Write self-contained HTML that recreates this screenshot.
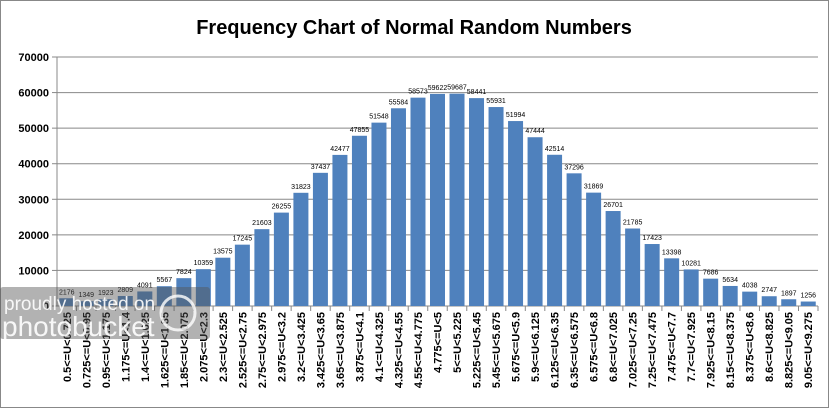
<!DOCTYPE html>
<html><head><style>
body{margin:0;background:#fff}
svg{display:block}
</style></head><body>
<svg id="s" width="829" height="408" xmlns="http://www.w3.org/2000/svg" font-family="Liberation Sans, sans-serif">
<rect x="0.5" y="0.5" width="828" height="407" fill="#fff" stroke="#888"/>
<text x="414" y="34" text-anchor="middle" font-size="20" font-weight="bold" fill="#000">Frequency Chart of Normal Random Numbers</text>
</svg>
<script>
var v=[2176,1349,1923,2809,4091,5567,7824,10359,13575,17245,21603,26255,31823,37437,42477,47855,51548,55584,58573,59622,59687,58441,55931,51994,47444,42514,37296,31869,26701,21785,17423,13398,10281,7686,5634,4038,2747,1897,1256];
var s=document.getElementById('s'),h='';
var x0=57,x1=818,y0=306,y7=57,k=(y0-y7)/70000,w=(x1-x0)/39;
for(var i=0;i<=7;i++){var y=y0-i*10000*k;
h+='<line x1="'+x0+'" x2="'+x1+'" y1="'+y+'" y2="'+y+'" stroke="#888"/>';
h+='<line x1="'+(x0-5)+'" x2="'+x0+'" y1="'+y+'" y2="'+y+'" stroke="#888"/>';
h+='<text x="'+(x0-8)+'" y="'+(y+4)+'" text-anchor="end" font-size="11" font-weight="bold">'+(i*10000)+'</text>';}
h+='<line x1="'+x0+'" x2="'+x0+'" y1="'+y7+'" y2="'+y0+'" stroke="#888"/>';
for(var i=0;i<39;i++){var cx=x0+w*i+w/2,bh=v[i]*k,lo=0.5+0.225*i,hi=lo+0.225;
h+='<rect x="'+(cx-7.5)+'" y="'+(y0-bh)+'" width="15" height="'+bh+'" fill="#4f81bd"/>';
h+='<text x="'+cx+'" y="'+(y0-bh-4)+'" text-anchor="middle" font-size="7">'+v[i]+'</text>';
h+='<line x1="'+(x0+w*(i+1))+'" x2="'+(x0+w*(i+1))+'" y1="'+y0+'" y2="'+(y0+5)+'" stroke="#888"/>';
var lab=(+lo.toFixed(3))+'&lt;=U&lt;'+(+hi.toFixed(3));
h+='<text transform="translate('+(cx+4)+',312) rotate(-90)" text-anchor="end" font-size="11" font-weight="bold">'+lab+'</text>';}
h+='<rect x="0" y="287" width="210" height="52" rx="3" fill="#555" opacity="0.45"/>';
h+='<text x="4" y="310" font-size="19" fill="#fff" opacity="0.9">proudly hosted on</text>';
h+='<text x="2" y="336" font-size="28" fill="#fff" opacity="0.9">photobucket</text>';
h+='<circle cx="178" cy="313" r="17" fill="none" stroke="#fff" stroke-width="3" opacity="0.8"/>';
s.insertAdjacentHTML('beforeend',h);
</script>
</body></html>
